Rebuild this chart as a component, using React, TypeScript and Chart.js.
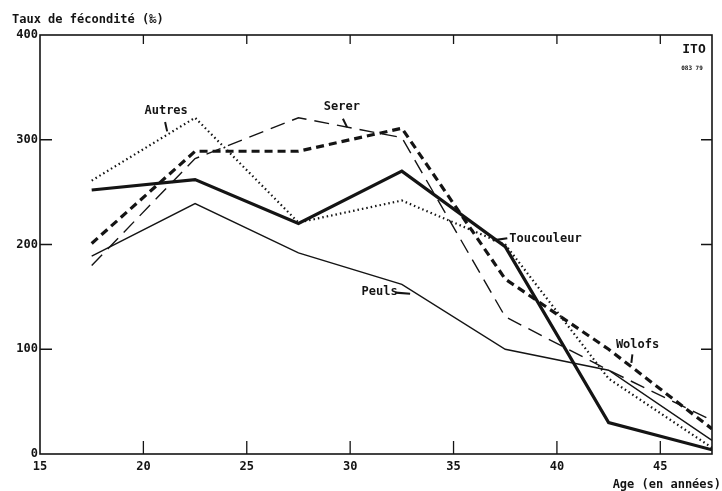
import { useEffect, useRef } from 'react';
import { Chart, registerables } from 'chart.js';
Chart.register(...registerables);

const ages = [17.5, 22.5, 27.5, 32.5, 37.5, 42.5, 47.5];
const toucouleur = [252, 262, 220, 270, 198, 30, 4];
const peuls = [189, 239, 192, 162, 100, 80, 13];
const autres = [261, 321, 221, 242, 200, 72, 6];
const serer = [180, 282, 321, 302, 131, 80, 32];
const wolofs = [201, 289, 289, 311, 167, 100, 24];
const xTicks = [15, 20, 25, 30, 35, 40, 45];
const yTicks = [0, 100, 200, 300, 400];

const FONT = "'DejaVu Sans Mono', monospace";
const INK = '#141414';

const pts = (vals: number[]) => vals.map((v, i) => ({ x: ages[i], y: v }));

export default function App() {
  const ref = useRef<HTMLCanvasElement>(null);
  useEffect(() => {
    const frame = {
      id: 'frame',
      afterDatasetsDraw(chart: any) {
        const { ctx, chartArea: a, scales } = chart;
        const x = scales.x, y = scales.y;
        ctx.save();
        ctx.strokeStyle = INK;
        ctx.fillStyle = INK;
        ctx.lineWidth = 1.6;
        ctx.strokeRect(a.left, a.top, a.right - a.left, a.bottom - a.top);
        ctx.lineWidth = 1.3;
        // y ticks inside left & right
        [100, 200, 300].forEach((v) => {
          const py = y.getPixelForValue(v);
          ctx.beginPath();
          ctx.moveTo(a.left, py); ctx.lineTo(a.left + 12, py);
          ctx.moveTo(a.right, py); ctx.lineTo(a.right - 11, py);
          ctx.stroke();
        });
        // x ticks inside bottom & top
        [20, 25, 30, 35, 40, 45].forEach((v) => {
          const px = x.getPixelForValue(v);
          ctx.beginPath();
          ctx.moveTo(px, a.bottom); ctx.lineTo(px, a.bottom - 13);
          ctx.moveTo(px, a.top); ctx.lineTo(px, a.top + 9);
          ctx.stroke();
        });
        ctx.font = `bold 12px ${FONT}`;
        ctx.textBaseline = 'middle';
        ctx.textAlign = 'left';
        ctx.fillText('Taux de fécondité (‰)', 12, 20);
        ctx.textAlign = 'right';
        ctx.fillText('Age (en années)', 721, 485);
        // series labels
        const lab = (t: string, ax: number, vy: number, align: CanvasTextAlign) => {
          ctx.textAlign = align;
          ctx.fillText(t, x.getPixelForValue(ax), y.getPixelForValue(vy));
        };
        lab('Autres', 21.1, 328, 'center');
        lab('Serer', 29.6, 331, 'center');
        lab('Toucouleur', 37.7, 205, 'left');
        lab('Peuls', 30.55, 155, 'left');
        lab('Wolofs', 43.9, 104, 'center');
        const seg = (x1: number, y1: number, x2: number, y2: number, w = 1.6) => {
          ctx.lineWidth = w;
          ctx.beginPath();
          ctx.moveTo(x.getPixelForValue(x1), y.getPixelForValue(y1));
          ctx.lineTo(x.getPixelForValue(x2), y.getPixelForValue(y2));
          ctx.stroke();
        };
        seg(21.05, 317, 21.15, 308, 2);
        seg(29.65, 320, 29.85, 312, 2);
        seg(37.6, 206, 36.9, 204, 2.2);
        seg(32.2, 154, 32.9, 153, 2.2);
        seg(43.65, 95, 43.6, 87, 2);
        // stamp
        ctx.font = `bold 13px ${FONT}`;
        ctx.textAlign = 'center';
        ctx.fillText('ITO', 694, 50);
        ctx.font = `bold 6px ${FONT}`;
        ctx.fillText('083 79', 692, 68);
        ctx.restore();
      },
    };
    const ds = (label: string, data: number[], width: number, dash: number[]) => ({
      label,
      data: pts(data),
      borderColor: INK,
      borderWidth: width,
      borderDash: dash,
      pointRadius: 0,
      tension: 0,
      fill: false,
    });
    const chart = new Chart(ref.current!, {
      type: 'line',
      data: {
        datasets: [
          ds('Toucouleur', toucouleur, 3.2, []),
          ds('Peuls', peuls, 1.4, []),
          ds('Autres', autres, 2.2, [1.5, 3]),
          ds('Serer', serer, 1.4, [15, 8]),
          ds('Wolofs', wolofs, 3.2, [8, 5]),
        ],
      },
      options: {
        animation: false,
        responsive: false,
        layout: { padding: { top: 35, right: 10, left: 0, bottom: 0 } },
        plugins: { legend: { display: false }, tooltip: { enabled: false } },
        scales: {
          x: {
            type: 'linear',
            min: 15,
            max: 47.5,
            afterFit: (s: any) => { s.height = 37; },
            afterBuildTicks: (s: any) => { s.ticks = xTicks.map((v) => ({ value: v })); },
            grid: { display: false, drawTicks: false },
            border: { display: false },
            ticks: { padding: 6, color: INK, font: { family: FONT, size: 12, weight: 'bold' }, maxRotation: 0, autoSkip: false },
          },
          y: {
            min: 0,
            max: 400,
            afterFit: (s: any) => { s.width = 40; },
            afterBuildTicks: (s: any) => { s.ticks = yTicks.map((v) => ({ value: v })); },
            grid: { display: false, drawTicks: false },
            border: { display: false },
            ticks: { padding: 2, color: INK, font: { family: FONT, size: 12, weight: 'bold' } },
          },
        },
      },
      plugins: [frame],
    });
    return () => chart.destroy();
  }, []);
  return (
    <div style={{ position: 'fixed', left: 0, top: 0, width: 722, height: 491, background: '#fff' }}>
      <canvas ref={ref} width={722} height={491} />
    </div>
  );
}
